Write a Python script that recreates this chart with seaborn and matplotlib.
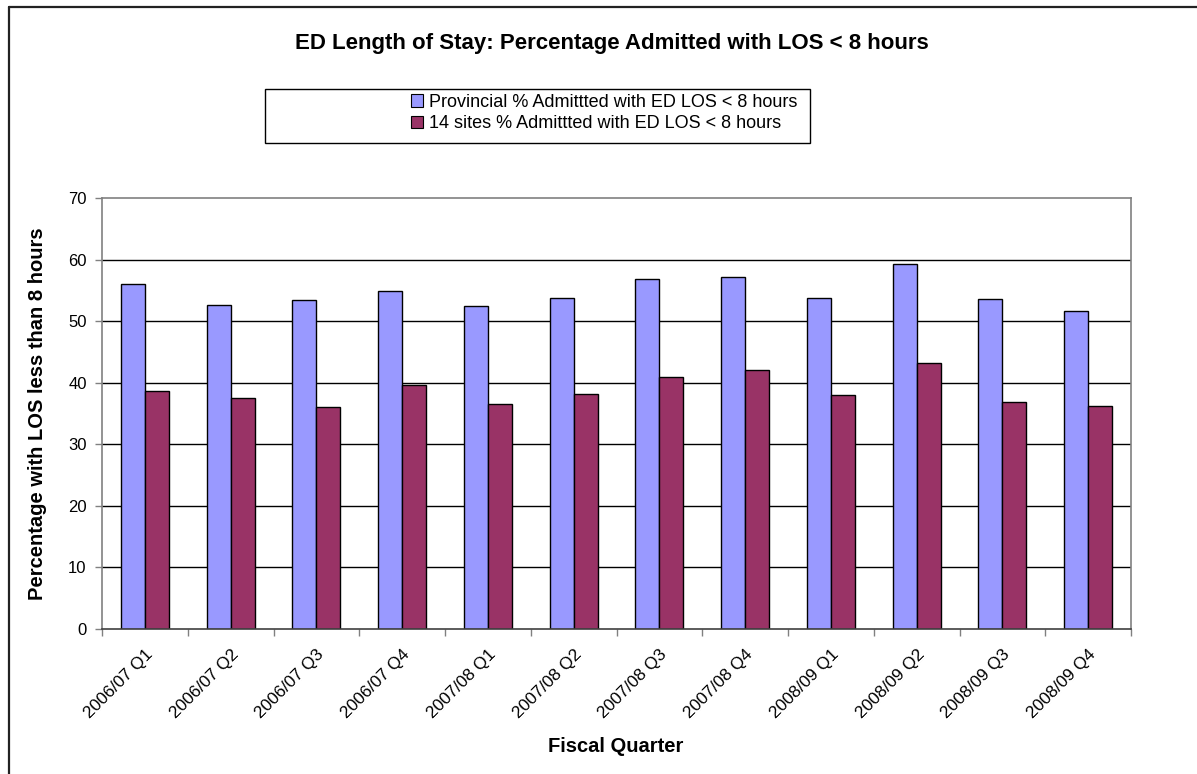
import matplotlib
matplotlib.use("Agg")
import matplotlib.pyplot as plt
import matplotlib.transforms as mtransforms
from matplotlib.patches import Patch, Rectangle
from matplotlib.lines import Line2D
import seaborn as sns
import pandas as pd

quarters = ["2006/07 Q1", "2006/07 Q2", "2006/07 Q3", "2006/07 Q4",
            "2007/08 Q1", "2007/08 Q2", "2007/08 Q3", "2007/08 Q4",
            "2008/09 Q1", "2008/09 Q2", "2008/09 Q3", "2008/09 Q4"]
provincial = [56.0, 52.6, 53.5, 54.9, 52.4, 53.8, 56.9, 57.2, 53.8, 59.2, 53.6, 51.7]
sites14 = [38.6, 37.5, 36.0, 39.6, 36.6, 38.1, 40.9, 42.0, 38.0, 43.2, 36.8, 36.2]
series_names = ["Provincial % Admittted with ED LOS < 8 hours",
                "14 sites % Admittted with ED LOS < 8 hours"]
colors = ["#9999FF", "#993366"]
y_ticks = [0, 10, 20, 30, 40, 50, 60, 70]

df = pd.DataFrame({
    "quarter": quarters * 2,
    "value": provincial + sites14,
    "series": [series_names[0]] * len(quarters) + [series_names[1]] * len(quarters),
})

sns.set_theme(style="white")
plt.rcParams["font.family"] = ["Liberation Sans", "DejaVu Sans"]
plt.rcParams["text.color"] = "black"
plt.rcParams["axes.labelcolor"] = "black"
plt.rcParams["xtick.color"] = "black"
plt.rcParams["ytick.color"] = "black"

W, H = 1197, 774
fig = plt.figure(figsize=(W / 100, H / 100), dpi=100)
ax = fig.add_axes([102 / W, 1 - 629 / H, (1131 - 102) / W, (629 - 198) / H])

sns.barplot(data=df, x="quarter", y="value", hue="series", order=quarters,
            hue_order=series_names, palette=colors, width=0.56, saturation=1,
            edgecolor="black", linewidth=1.0, legend=False, ax=ax)

ax.set_ylim(0, 70)
ax.set_xlim(-0.5, len(quarters) - 0.5)
ax.set_yticks(y_ticks)
ax.set_yticklabels([str(v) for v in y_ticks], fontsize=12, color="black")

# horizontal gridlines at interior ticks only
for v in y_ticks[1:-1]:
    ax.axhline(v, color="black", lw=1.0, zorder=0.5)

# category ticks at group boundaries, labels at group centres
ax.set_xticks([i - 0.5 for i in range(len(quarters) + 1)])
ax.set_xticklabels([])
ax.set_xticks(range(len(quarters)), minor=True)
ax.set_xticklabels(quarters, minor=True, rotation=45, ha="right",
                   rotation_mode="anchor", fontsize=12.4, color="black")
shift = mtransforms.ScaledTranslation(-6 / 100, 0, fig.dpi_scale_trans)
for lbl in ax.get_xticklabels(minor=True):
    lbl.set_transform(lbl.get_transform() + shift)
ax.tick_params(axis="x", which="minor", length=0, pad=13)
ax.tick_params(axis="x", which="major", length=5, width=1, color="#808080",
               direction="out", bottom=True)
ax.tick_params(axis="y", length=5, width=1, color="#808080", direction="out",
               left=True, pad=6)

for side in ["left", "bottom", "top", "right"]:
    ax.spines[side].set_visible(True)
    ax.spines[side].set_color("#808080")
    ax.spines[side].set_linewidth(1.2)
ax.spines["bottom"].set_color("#404040")

ax.set_xlabel("Fiscal Quarter", fontsize=14.5, fontweight="bold")
ax.set_ylabel("Percentage with LOS less than 8 hours", fontsize=14.5,
              fontweight="bold")
ax.xaxis.set_label_coords((616 - 102) / (1131 - 102), -(747 - 629) / (629 - 198))
ax.xaxis.label.set_va("center")
ax.yaxis.set_label_coords(-(102 - 38) / (1131 - 102), 0.5)
ax.yaxis.label.set_va("center")

fig.text(612 / W, 1 - 44 / H, "ED Length of Stay: Percentage Admitted with LOS < 8 hours",
         ha="center", va="center", fontsize=16, fontweight="bold", color="black")

# legend box and entries
fig.patches.append(Rectangle((265 / W, 1 - 143 / H), (810 - 265) / W, (143 - 89) / H,
                             transform=fig.transFigure, facecolor="white",
                             edgecolor="black", lw=1.0))
handles = [Patch(facecolor=c, edgecolor="black", lw=0.8) for c in colors]
leg = fig.legend(handles, series_names, loc="center", bbox_to_anchor=(604 / W, 1 - 113 / H),
                 frameon=False, fontsize=13, handlelength=0.7, handleheight=0.7,
                 handletextpad=0.3, labelspacing=0.25, borderaxespad=0, borderpad=0)
for t in leg.get_texts():
    t.set_color("black")

# outer chart border
fig.lines.append(Line2D([8.5 / W, 8.5 / W], [0, 1 - 7 / H], transform=fig.transFigure,
                        color="#222222", lw=1.6))
fig.lines.append(Line2D([8.5 / W, 1], [1 - 7 / H, 1 - 7 / H], transform=fig.transFigure,
                        color="#222222", lw=1.6))

fig.savefig("out.png", dpi=100, facecolor="white")
